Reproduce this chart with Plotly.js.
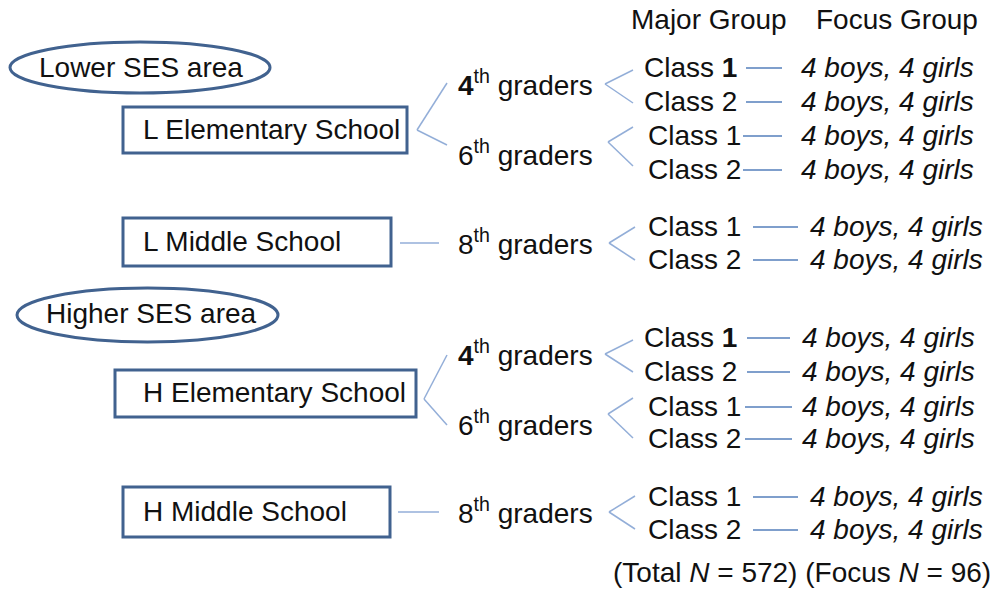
<!DOCTYPE html>
<html>
<head>
<meta charset="utf-8">
<script src="https://cdn.plot.ly/plotly-3.0.1.min.js"></script>
<style>
  html, body { margin: 0; padding: 0; background: #ffffff; }
  #chart { width: 994px; height: 589px; }
</style>
</head>
<body>
<div id="chart"></div>
<script>
// ---------------- DATA ----------------
const headerLabels = ["Major Group", "Focus Group"];
const areaLabels = ["Lower SES area", "Higher SES area"];
const schoolLabels = ["L Elementary School", "L Middle School", "H Elementary School", "H Middle School"];
const gradeNumbers = [4, 6, 8, 4, 6, 8];
const gradeSchool = [0, 0, 1, 2, 2, 3];          // index into schoolLabels
const classNumbers = [1, 2, 1, 2, 1, 2, 1, 2, 1, 2, 1, 2];
const classGrade = [0, 0, 1, 1, 2, 2, 3, 3, 4, 4, 5, 5]; // index into gradeNumbers
const focusBoys = [4, 4, 4, 4, 4, 4, 4, 4, 4, 4, 4, 4];
const focusGirls = [4, 4, 4, 4, 4, 4, 4, 4, 4, 4, 4, 4];
const totalN = 572;
const focusN = 96;

// ---------------- LAYOUT (positions / styles) ----------------
const W = 994, H = 589;
const FONT = "Liberation Sans, Arial, sans-serif";
const FS = 28;
const boxColor = "#41628f";
const forkColor = "#93aed8";
const linkColor = "#7f9fcc";

const headerPos = [[630, 19], [815, 19]];
const areaEllipse = [[10, 270, 42, 93], [17, 278, 288, 342]];
const areaTextPos = [[38, 67], [45, 313]];
const schoolBox = [[123, 407, 107, 153], [123, 391, 218, 266], [115, 416, 370, 417], [123, 390, 487, 537]];
const schoolTextX = 142;
const gradeY = [83, 153, 242, 353, 423, 511];
const gradeTextX = 457;
// school -> grade connectors: fork (vertex + two ends) or straight line
const schoolFork = [
  {v: [417, 130], a: [447, 83], b: [447, 145]},
  null,
  {v: [424, 399], a: [447, 355], b: [447, 425]},
  null
];
const schoolStraight = [null, [400, 439, 243], null, [398, 439, 512]];
// grade -> class forks
const gradeFork = [
  {v: [605, 84], a: [633, 70], b: [633, 103]},
  {v: [608, 142], a: [633, 127], b: [633, 166]},
  {v: [609, 243], a: [635, 227], b: [635, 260]},
  {v: [605, 354], a: [633, 340], b: [633, 372]},
  {v: [608, 414], a: [633, 398], b: [633, 438]},
  {v: [609, 512], a: [635, 496], b: [635, 529]}
];
const rowY = [67, 101, 135, 169, 226, 259, 337, 371, 406, 438, 496, 529];
const classTextX = [643, 643, 647, 647, 647, 647, 643, 643, 647, 647, 647, 647];
const linkX = [[746, 782], [746, 782], [743, 782], [743, 782], [753, 798], [753, 798],
               [747, 790], [747, 790], [745, 792], [745, 792], [753, 798], [753, 798]];
const focusTextX = [800, 800, 800, 800, 809, 809, 801, 801, 801, 801, 809, 809];
const boldRows = [0, 6];
const boldGrades = [0, 3];
const totalPos = [612, 572];

// ---------------- BUILD ----------------
const shapes = [];
const annotations = [];

function txt(x, y, text, fontExtra) {
  annotations.push({
    x: x, y: y, xref: "x", yref: "y", text: text, showarrow: false,
    xanchor: "left", yanchor: "middle",
    font: Object.assign({family: FONT, size: FS, color: "#111111"}, fontExtra || {}),
    borderpad: 0
  });
}
function seg(x0, y0, x1, y1, color, width) {
  shapes.push({type: "line", xref: "x", yref: "y", x0: x0, y0: y0, x1: x1, y1: y1,
               line: {color: color, width: width}});
}

headerLabels.forEach((t, i) => txt(headerPos[i][0], headerPos[i][1], t));

areaLabels.forEach((t, i) => {
  const e = areaEllipse[i];
  shapes.push({type: "circle", xref: "x", yref: "y", x0: e[0], x1: e[1], y0: e[2], y1: e[3],
               line: {color: boxColor, width: 3}, fillcolor: "rgba(0,0,0,0)"});
  txt(areaTextPos[i][0], areaTextPos[i][1], t);
});

schoolLabels.forEach((t, i) => {
  const b = schoolBox[i];
  shapes.push({type: "rect", xref: "x", yref: "y", x0: b[0], x1: b[1], y0: b[2], y1: b[3],
               line: {color: boxColor, width: 3}, fillcolor: "rgba(0,0,0,0)"});
  txt(schoolTextX, (b[2] + b[3]) / 2 - 1, t);
  const f = schoolFork[i];
  if (f) {
    seg(f.v[0], f.v[1], f.a[0], f.a[1], forkColor, 1.5);
    seg(f.v[0], f.v[1], f.b[0], f.b[1], forkColor, 1.5);
  }
  const s = schoolStraight[i];
  if (s) seg(s[0], s[2], s[1], s[2], forkColor, 1.5);
});

gradeNumbers.forEach((g, i) => {
  const num = boldGrades.includes(i) ? "<b>" + g + "</b>" : String(g);
  txt(gradeTextX, gradeY[i], num + "<sup>th</sup> graders");
  const f = gradeFork[i];
  seg(f.v[0], f.v[1], f.a[0], f.a[1], forkColor, 1.5);
  seg(f.v[0], f.v[1], f.b[0], f.b[1], forkColor, 1.5);
});

classNumbers.forEach((c, i) => {
  const num = boldRows.includes(i) ? "<b>" + c + "</b>" : String(c);
  txt(classTextX[i], rowY[i], "Class " + num);
  seg(linkX[i][0], rowY[i] + 1, linkX[i][1], rowY[i] + 1, linkColor, 2.2);
  txt(focusTextX[i], rowY[i], focusBoys[i] + " boys, " + focusGirls[i] + " girls", {style: "italic"});
});

txt(totalPos[0], totalPos[1], "(Total <i>N</i> = " + totalN + ") (Focus <i>N</i> = " + focusN + ")");

const layout = {
  width: W, height: H,
  margin: {l: 0, r: 0, t: 0, b: 0},
  paper_bgcolor: "#ffffff", plot_bgcolor: "#ffffff",
  showlegend: false,
  xaxis: {range: [0, W], visible: false, fixedrange: true},
  yaxis: {range: [H, 0], visible: false, fixedrange: true},
  shapes: shapes,
  annotations: annotations
};

Plotly.newPlot("chart", [{x: [], y: [], type: "scatter", mode: "markers", hoverinfo: "skip"}], layout,
               {displayModeBar: false, staticPlot: true});
</script>
</body>
</html>
